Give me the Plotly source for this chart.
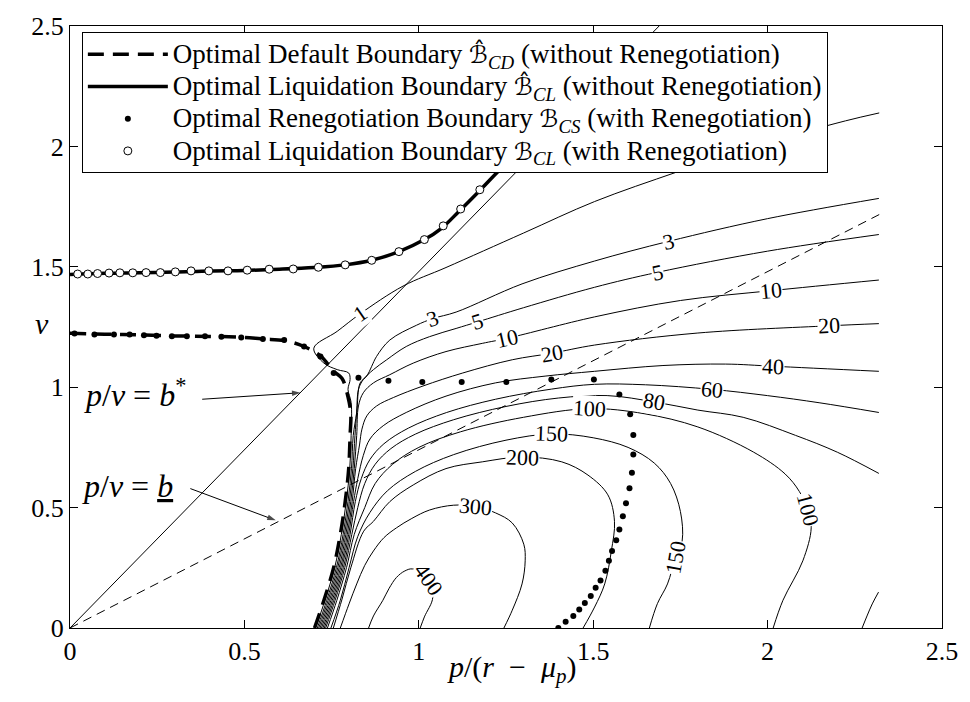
import plotly.graph_objects as go

# ---------------- data ----------------
tick_vals = [0, 0.5, 1, 1.5, 2, 2.5]
tick_text = ["0", "0.5", "1", "1.5", "2", "2.5"]

# p/v = b* and p/v = b (underline) rays
bstar_x = [0.0, 1.689]
bstar_y = [0.0, 2.5]
blow_x = [0.0, 2.32]
blow_y = [0.0, 1.717]

# Optimal default boundary (without renegotiation) - thick dashed
def_x = [0.0, 0.1, 0.2, 0.3, 0.4, 0.5, 0.553, 0.614, 0.671, 0.718, 0.756, 0.780, 0.797,
         0.805, 0.803, 0.799, 0.789, 0.775, 0.756, 0.728, 0.701]
def_y = [1.224, 1.220, 1.217, 1.213, 1.211, 1.207, 1.200, 1.194, 1.169, 1.130, 1.066, 1.036, 0.960,
         0.890, 0.799, 0.662, 0.525, 0.389, 0.252, 0.115, 0.0]

# Optimal liquidation boundary (without renegotiation) - thick solid
liq_x = [0.0, 0.1, 0.2, 0.3, 0.4, 0.5, 0.6, 0.7, 0.789, 0.865, 0.943, 1.016, 1.065, 1.115,
         1.170, 1.230, 1.300, 1.400]
liq_y = [1.468, 1.473, 1.475, 1.478, 1.483, 1.485, 1.490, 1.497, 1.508, 1.527, 1.563, 1.613,
         1.660, 1.730, 1.810, 1.900, 2.000, 2.150]

# Optimal renegotiation boundary (with renegotiation) - filled dots
ren_x = [0.013, 0.070, 0.126, 0.171, 0.212, 0.248, 0.292, 0.335, 0.387, 0.434, 0.491, 0.553,
         0.614, 0.671, 0.718, 0.756, 0.827, 0.913, 1.010, 1.123, 1.251, 1.380, 1.502, 1.575,
         1.606, 1.615, 1.615, 1.611, 1.604, 1.594, 1.585, 1.575, 1.566, 1.554, 1.545, 1.535,
         1.521, 1.507, 1.493, 1.476, 1.460, 1.443, 1.421, 1.400]
ren_y = [1.223, 1.219, 1.219, 1.219, 1.216, 1.214, 1.212, 1.212, 1.212, 1.210, 1.206, 1.200,
         1.196, 1.169, 1.128, 1.059, 1.039, 1.027, 1.022, 1.022, 1.022, 1.032, 1.032, 0.970,
         0.888, 0.802, 0.720, 0.645, 0.580, 0.518, 0.464, 0.409, 0.364, 0.320, 0.279, 0.238,
         0.197, 0.167, 0.133, 0.104, 0.077, 0.050, 0.026, 0.0]

# Optimal liquidation boundary (with renegotiation) - open circles
cl_x = [0.022, 0.051, 0.079, 0.112, 0.143, 0.180, 0.218, 0.259, 0.302, 0.347, 0.398, 0.453,
        0.508, 0.571, 0.640, 0.712, 0.789, 0.865, 0.943, 1.016, 1.070, 1.120, 1.175]
cl_y = [1.470, 1.470, 1.472, 1.474, 1.475, 1.475, 1.476, 1.476, 1.479, 1.483, 1.483, 1.483,
        1.486, 1.490, 1.491, 1.498, 1.508, 1.527, 1.563, 1.613, 1.670, 1.740, 1.820]

# contour lines (level -> traced polyline)
c1_x = [0.704, 0.731, 0.759, 0.778, 0.792, 0.802, 0.806, 0.806, 0.797, 0.803, 0.799, 0.766, 0.728,
        0.699, 0.766, 0.832, 0.955, 1.078, 1.300, 1.504, 1.741, 1.960, 2.223, 2.320]
c1_y = [0.000, 0.115, 0.252, 0.389, 0.525, 0.662, 0.799, 0.936, 0.991, 1.032, 1.059, 1.073, 1.100,
        1.162, 1.232, 1.305, 1.420, 1.497, 1.640, 1.771, 1.894, 2.000, 2.106, 2.139]
c3_x = [0.709, 0.736, 0.764, 0.783, 0.797, 0.807, 0.812, 0.822, 0.832, 0.851, 0.865, 0.879, 0.917,
        0.993, 1.040, 1.107, 1.296, 1.504, 1.717, 2.000, 2.319]
c3_y = [0.000, 0.115, 0.252, 0.389, 0.525, 0.662, 0.799, 0.895, 1.018, 1.046, 1.087, 1.128, 1.196,
        1.257, 1.285, 1.312, 1.429, 1.524, 1.606, 1.700, 1.784]
c5_x = [0.713, 0.740, 0.768, 0.787, 0.801, 0.811, 0.817, 0.822, 0.827, 0.841, 0.870, 0.908, 0.964,
        1.031, 1.107, 1.168, 1.300, 1.504, 1.684, 2.000, 2.319]
c5_y = [0.000, 0.115, 0.252, 0.389, 0.525, 0.662, 0.799, 0.900, 0.991, 1.032, 1.073, 1.114, 1.169,
        1.210, 1.244, 1.271, 1.330, 1.415, 1.477, 1.565, 1.634]
c10_x = [0.717, 0.744, 0.772, 0.791, 0.805, 0.815, 0.822, 0.827, 0.841, 0.870, 0.917, 0.984, 1.078,
         1.182, 1.253, 1.504, 1.750, 2.011, 2.319]
c10_y = [0.000, 0.115, 0.252, 0.389, 0.525, 0.662, 0.800, 0.922, 0.977, 1.018, 1.052, 1.100, 1.148,
         1.182, 1.203, 1.292, 1.360, 1.401, 1.445]
c20_x = [0.721, 0.748, 0.776, 0.795, 0.809, 0.819, 0.830, 0.837, 0.851, 0.879, 0.927, 1.012, 1.126,
         1.268, 1.381, 1.504, 1.800, 2.177, 2.319]
c20_y = [0.000, 0.115, 0.252, 0.389, 0.525, 0.662, 0.760, 0.826, 0.881, 0.922, 0.957, 1.005, 1.059,
         1.114, 1.141, 1.175, 1.225, 1.255, 1.264]
c40_x = [0.725, 0.752, 0.780, 0.799, 0.813, 0.825, 0.841, 0.860, 0.898, 0.964, 1.078, 1.220, 1.362,
         1.504, 1.700, 1.880, 2.016, 2.319]
c40_y = [0.000, 0.115, 0.252, 0.389, 0.525, 0.620, 0.717, 0.785, 0.840, 0.895, 0.963, 1.018, 1.046,
         1.066, 1.090, 1.096, 1.087, 1.066]
c60_x = [0.729, 0.756, 0.784, 0.803, 0.818, 0.835, 0.860, 0.900, 0.970, 1.080, 1.220, 1.380, 1.504,
         1.650, 1.841, 2.000, 2.150, 2.319]
c60_y = [0.000, 0.115, 0.252, 0.389, 0.525, 0.620, 0.700, 0.765, 0.830, 0.895, 0.950, 0.992, 1.012,
         1.010, 0.991, 0.965, 0.935, 0.895]
c80_x = [0.733, 0.760, 0.788, 0.808, 0.825, 0.845, 0.875, 0.920, 0.990, 1.100, 1.250, 1.400, 1.542,
         1.675, 1.800, 1.930, 2.080, 2.200, 2.319]
c80_y = [0.000, 0.115, 0.252, 0.389, 0.500, 0.600, 0.680, 0.745, 0.805, 0.865, 0.920, 0.955, 0.965,
         0.939, 0.905, 0.875, 0.800, 0.730, 0.642]
c80b_x = [2.271, 2.285, 2.300, 2.318]
c80b_y = [0.000, 0.050, 0.100, 0.149]
c100_x = [0.738, 0.765, 0.793, 0.815, 0.845, 0.875, 0.925, 1.000, 1.120, 1.300, 1.490, 1.646, 1.800,
          1.959, 2.050, 2.091, 2.115, 2.125, 2.101, 2.044, 2.016]
c100_y = [0.000, 0.115, 0.252, 0.389, 0.500, 0.600, 0.680, 0.750, 0.815, 0.875, 0.911, 0.890, 0.835,
          0.731, 0.640, 0.567, 0.491, 0.416, 0.279, 0.115, 0.000]
c150_x = [0.748, 0.775, 0.800, 0.825, 0.860, 0.910, 0.990, 1.100, 1.250, 1.381, 1.500, 1.600, 1.675,
          1.722, 1.750, 1.755, 1.736, 1.713, 1.684, 1.661]
c150_y = [0.000, 0.115, 0.250, 0.380, 0.480, 0.570, 0.650, 0.720, 0.780, 0.806, 0.790, 0.750, 0.685,
          0.600, 0.484, 0.361, 0.293, 0.183, 0.101, 0.000]
c200_x = [0.755, 0.780, 0.805, 0.842, 0.870, 0.917, 0.984, 1.078, 1.182, 1.296, 1.410, 1.485, 1.542,
          1.561, 1.552, 1.533, 1.504, 1.471]
c200_y = [0.000, 0.120, 0.250, 0.402, 0.443, 0.525, 0.594, 0.662, 0.690, 0.710, 0.690, 0.635, 0.553,
          0.443, 0.320, 0.183, 0.087, 0.000]
c300_x = [0.775, 0.800, 0.822, 0.845, 0.870, 0.900, 0.936, 0.980, 1.031, 1.100, 1.163, 1.220, 1.268,
          1.301, 1.305, 1.296, 1.268, 1.244]
c300_y = [0.000, 0.100, 0.183, 0.260, 0.320, 0.375, 0.416, 0.455, 0.490, 0.510, 0.505, 0.478, 0.436,
          0.348, 0.279, 0.183, 0.074, 0.000]
c400_x = [0.856, 0.870, 0.897, 0.915, 0.936, 0.960, 0.983, 1.022, 1.040, 1.016, 1.004]
c400_y = [0.000, 0.050, 0.115, 0.165, 0.210, 0.237, 0.245, 0.200, 0.128, 0.046, 0.000]

# contour labels
lab_text = ["1", "3", "3", "5", "5", "10", "10", "20", "20", "40", "60", "80", "100", "100",
            "150", "150", "200", "300", "400"]
lab_x = [0.832, 1.040, 1.717, 1.168, 1.684, 1.253, 2.011, 1.381, 2.177, 2.016, 1.841, 1.675,
         1.490, 2.115, 1.381, 1.736, 1.296, 1.163, 1.028]
lab_y = [1.305, 1.285, 1.606, 1.271, 1.477, 1.203, 1.401, 1.141, 1.255, 1.087, 0.991, 0.939,
         0.911, 0.491, 0.806, 0.293, 0.710, 0.505, 0.201]
lab_angle = [-35, -19, -14, -17, -12, -13, -6, -10, -3, 2, 5, 10, 3, 75, 2, -80, 2, 5, 55]

# arrow annotations (tail -> tip)
arrow1_x = [0.379, 0.661]
arrow1_y = [0.950, 0.977]
arrow2_x = [0.345, 0.590]
arrow2_y = [0.579, 0.447]

# ---------------- figure ----------------
SERIF = "Liberation Serif, Times New Roman, serif"
fig = go.Figure()

contours = [(c1_x, c1_y), (c3_x, c3_y), (c5_x, c5_y), (c10_x, c10_y), (c20_x, c20_y),
            (c40_x, c40_y), (c60_x, c60_y), (c80_x, c80_y), (c80b_x, c80b_y),
            (c100_x, c100_y), (c150_x, c150_y), (c200_x, c200_y), (c300_x, c300_y),
            (c400_x, c400_y)]
for cx, cy in contours:
    fig.add_trace(go.Scatter(x=cx, y=cy, mode="lines", line=dict(color="black", width=1),
                             line_shape="spline", showlegend=False, hoverinfo="skip"))

fig.add_trace(go.Scatter(x=bstar_x, y=bstar_y, mode="lines",
                         line=dict(color="black", width=1), showlegend=False))
fig.add_trace(go.Scatter(x=blow_x, y=blow_y, mode="lines",
                         line=dict(color="black", width=1, dash="9px,6px"), showlegend=False))

for ax_, ay_ in [(arrow1_x, arrow1_y), (arrow2_x, arrow2_y)]:
    fig.add_trace(go.Scatter(x=ax_, y=ay_, mode="lines+markers",
                             line=dict(color="black", width=1),
                             marker=dict(symbol="arrow", size=[0, 9], angleref="previous",
                                         color="black", line=dict(width=0)),
                             showlegend=False, hoverinfo="skip"))

HAT_B = '<span style="font-family:DejaVu Sans;font-size:24px">ℬ̂</span>'
PLAIN_B = '<span style="font-family:DejaVu Sans;font-size:24px">ℬ</span>'


def big(s):
    return '<span style="font-size:27px">' + s + '</span>'


fig.add_trace(go.Scatter(
    x=def_x, y=def_y, mode="lines", line=dict(color="black", width=3.5, dash="16px,9px"),
    line_shape="spline",
    name=big("Optimal Default Boundary " + HAT_B + "<sub><i>CD</i></sub> (without Renegotiation)")))
fig.add_trace(go.Scatter(
    x=liq_x, y=liq_y, mode="lines", line=dict(color="black", width=3.5), line_shape="spline",
    name=big("Optimal Liquidation Boundary " + HAT_B + "<sub><i>CL</i></sub> (without Renegotiation)")))
fig.add_trace(go.Scatter(
    x=ren_x, y=ren_y, mode="markers", marker=dict(color="black", size=6),
    name=big("Optimal Renegotiation Boundary " + PLAIN_B + "<sub><i>CS</i></sub> (with Renegotiation)")))
fig.add_trace(go.Scatter(
    x=cl_x, y=cl_y, mode="markers",
    marker=dict(color="white", size=8, line=dict(color="black", width=1)),
    name=big("Optimal Liquidation Boundary " + PLAIN_B + "<sub><i>CL</i></sub> (with Renegotiation)")))

annotations = []
for t, x, y, a in zip(lab_text, lab_x, lab_y, lab_angle):
    annotations.append(dict(x=x, y=y, xref="x", yref="y", text=t, showarrow=False,
                            textangle=a, bgcolor="white", borderpad=0,
                            font=dict(family=SERIF, size=22, color="black")))
annotations.append(dict(x=0.033, y=0.975, xref="x", yref="y", xanchor="left",
                        text="<i>p</i>/<i>v</i> = <i>b</i><sup>*</sup>", showarrow=False,
                        font=dict(family=SERIF, size=32, color="black")))
annotations.append(dict(x=0.028, y=0.590, xref="x", yref="y", xanchor="left",
                        text="<i>p</i>/<i>v</i> = <u><i>b</i></u>", showarrow=False,
                        font=dict(family=SERIF, size=32, color="black")))
annotations.append(dict(x=0.507, y=-0.103, xref="paper", yref="paper",
                        text="<i>p</i>/(<i>r</i>\u2002−\u2002<i>μ</i><sub><i>p</i></sub>)",
                        showarrow=False, font=dict(family=SERIF, size=30, color="black")))
annotations.append(dict(x=-0.043, y=0.506, xref="paper", yref="paper",
                        text="<i>v</i>", showarrow=False,
                        font=dict(family=SERIF, size=30, color="black")))

axis_common = dict(range=[0, 2.5], tickvals=tick_vals, ticktext=tick_text, ticks="inside",
                   ticklen=8, tickwidth=1, tickcolor="black", showline=True, linecolor="black",
                   linewidth=1, mirror="allticks", showgrid=False, zeroline=False,
                   tickfont=dict(family=SERIF, size=26, color="black"))

fig.update_layout(
    width=970, height=702,
    margin=dict(l=70, r=20, t=19, b=74),
    paper_bgcolor="white", plot_bgcolor="white",
    xaxis=dict(**axis_common),
    yaxis=dict(**axis_common),
    annotations=annotations,
    legend=dict(x=0.0136, y=0.99, xanchor="left", yanchor="top", bgcolor="white",
                bordercolor="black", borderwidth=1, itemwidth=80, tracegroupgap=0,
                font=dict(family=SERIF, size=22.5, color="black")),
    showlegend=True,
)

fig.write_html("out.html")
